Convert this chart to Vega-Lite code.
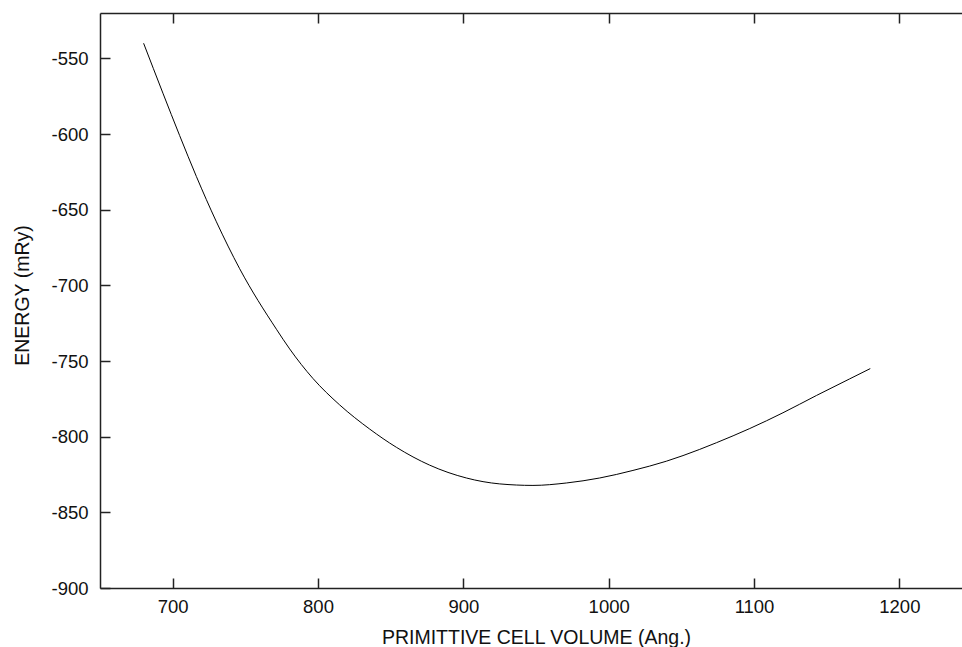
{
  "$schema": "https://vega.github.io/schema/vega-lite/v6.json",
  "width": 862,
  "height": 575,
  "autosize": {"type": "none"},
  "padding": {"left": 100, "top": 13, "right": 0, "bottom": 59},
  "background": "white",
  "config": {
    "view": {"stroke": null},
    "axis": {
      "grid": false,
      "domainColor": "#222222",
      "domainWidth": 1.5,
      "tickColor": "#222222",
      "tickWidth": 1.5,
      "labelFont": "Liberation Sans",
      "titleFont": "Liberation Sans",
      "labelFontSize": 18.5,
      "titleFontSize": 19.5,
      "labelColor": "#111111",
      "titleColor": "#111111",
      "titleFontWeight": "normal"
    }
  },
  "data": {
    "values": [
      {"volume": 680, "energy": -540},
      {"volume": 693.3, "energy": -573},
      {"volume": 704.8, "energy": -601},
      {"volume": 716.3, "energy": -628},
      {"volume": 730.1, "energy": -658},
      {"volume": 746.1, "energy": -689},
      {"volume": 771.4, "energy": -729},
      {"volume": 780.5, "energy": -742},
      {"volume": 796.5, "energy": -761.5},
      {"volume": 814.9, "energy": -779},
      {"volume": 835.6, "energy": -795},
      {"volume": 853.9, "energy": -807},
      {"volume": 876.8, "energy": -818.8},
      {"volume": 902.1, "energy": -827.3},
      {"volume": 925, "energy": -831.2},
      {"volume": 947.9, "energy": -832.2},
      {"volume": 970.9, "energy": -830.6},
      {"volume": 993.8, "energy": -827.3},
      {"volume": 1016.7, "energy": -822.3},
      {"volume": 1039.7, "energy": -816.2},
      {"volume": 1062.6, "energy": -808.4},
      {"volume": 1074.1, "energy": -804},
      {"volume": 1097.1, "energy": -794.6},
      {"volume": 1119.9, "energy": -784.2},
      {"volume": 1142.9, "energy": -772.8},
      {"volume": 1165.8, "energy": -761.8},
      {"volume": 1180, "energy": -755}
    ]
  },
  "encoding": {
    "y": {
      "field": "energy",
      "type": "quantitative",
      "scale": {"domain": [-900, -520], "nice": false, "zero": false},
      "axis": {
        "values": [-900, -850, -800, -750, -700, -650, -600, -550],
        "labelExpr": "'' + datum.value",
        "tickSize": -10,
        "labelPadding": 22,
        "title": "ENERGY (mRy)",
        "titleX": -77.5,
        "titleY": 282,
        "titleBaseline": "middle"
      }
    }
  },
  "layer": [
    {
      "mark": {"type": "line", "color": "black", "strokeWidth": 1, "interpolate": "monotone"},
      "encoding": {
        "x": {
          "field": "volume",
          "type": "quantitative",
          "scale": {"domain": [650, 1243.1], "nice": false, "zero": false},
          "axis": {
            "orient": "bottom",
            "values": [700, 800, 900, 1000, 1100, 1200],
            "labelExpr": "'' + datum.value",
            "tickSize": -10,
            "labelBaseline": "alphabetic",
            "labelPadding": 34,
            "title": "PRIMITTIVE CELL VOLUME (Ang.)",
            "titleX": 436,
            "titleY": 55,
            "titleBaseline": "alphabetic"
          }
        }
      }
    },
    {
      "mark": {"type": "line", "strokeOpacity": 0},
      "encoding": {
        "x": {
          "field": "volume",
          "type": "quantitative",
          "axis": {
            "orient": "top",
            "values": [700, 800, 900, 1000, 1100, 1200],
            "tickSize": -10,
            "labels": false,
            "title": null
          }
        }
      }
    }
  ],
  "resolve": {"axis": {"x": "independent"}}
}
